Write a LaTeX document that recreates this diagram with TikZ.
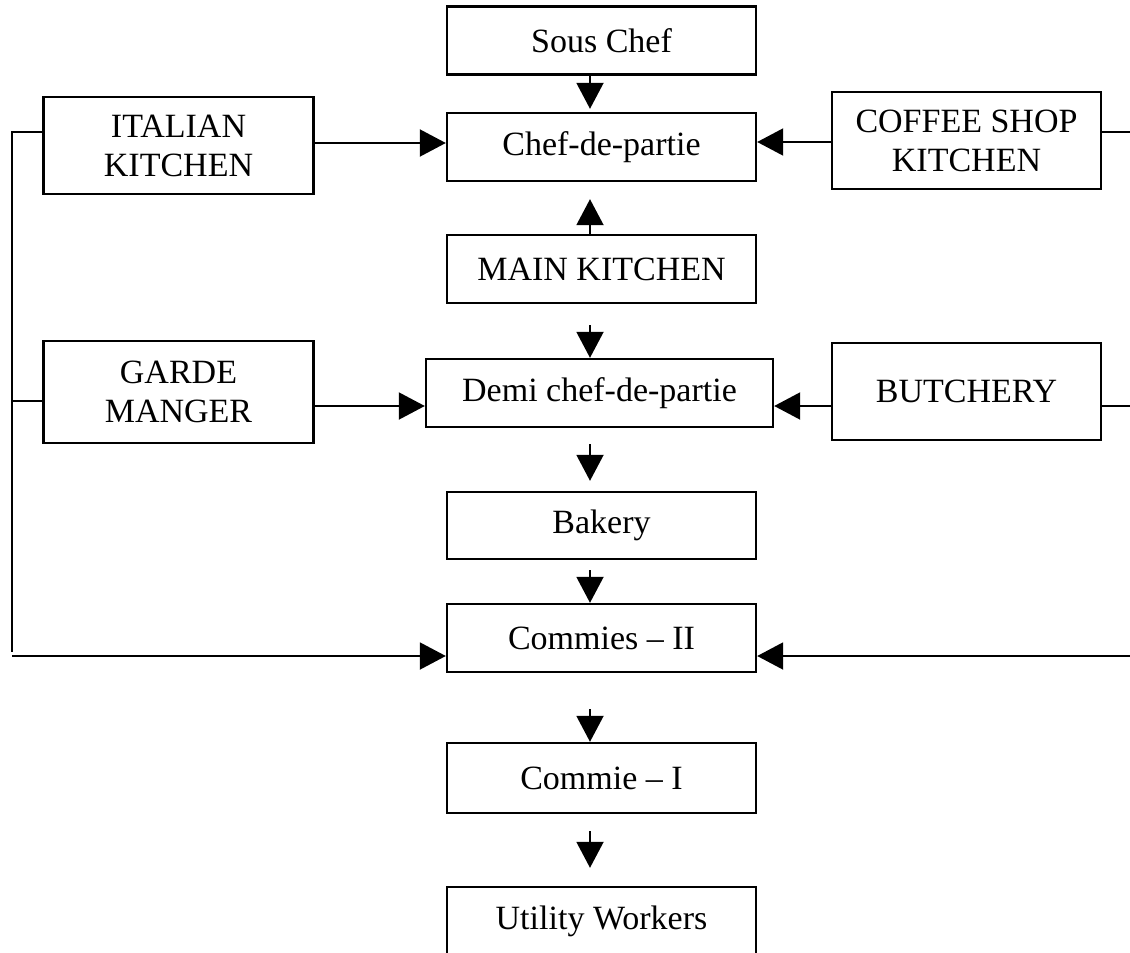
\documentclass[tikz,border=0pt]{standalone}
\usepackage{fontspec}
\setmainfont{Liberation Serif}
\usetikzlibrary{arrows.meta}
\begin{document}
\begin{tikzpicture}[x=1pt,y=-1pt,
  box/.style={draw, line width=2.4pt, inner sep=0pt, align=center,
    font=\fontsize{34}{39}\selectfont, minimum width=309pt, minimum height=68pt},
  sidebox/.style={box, minimum width=270pt, minimum height=97pt},
  openbox/.style={inner sep=0pt, align=center, font=\fontsize{34}{39}\selectfont,
    minimum width=309pt, minimum height=68pt},
  conn/.style={line width=2pt},
  arr/.style={conn, -{Triangle[length=26pt,width=27pt]}}]
\clip (0,0) rectangle (1130,953);
\fill[white] (0,0) rectangle (1130,953);
% guide coordinates
\coordinate (ax) at (590,0);
\coordinate (lbus) at (12,0);
\coordinate (rbus) at (1140,0);
\coordinate (yA) at (0,143);
\coordinate (yAr) at (0,142);
\coordinate (yS1) at (0,132);
\coordinate (yB) at (0,406);
\coordinate (yS2) at (0,401);
\coordinate (yC) at (0,656);
% centre column
\node[box] (sous) at (601.5,40.5) {Sous Chef};
\node[box] (chef) at (601.5,147) {Chef-de-partie};
\node[box] (main) at (601.5,269) {MAIN KITCHEN};
\node[box, minimum width=347pt] (demi) at (599.5,393) {Demi chef-de-partie};
\node[box, minimum height=67pt] (bakery) at (601.5,525.5) {Bakery};
\node[box] (com2) at (601.5,638) {Commies – II};
\node[box, minimum height=70pt] (com1) at (601.5,778) {Commie – I};
\node[openbox] (util) at (601.5,921) {Utility Workers};
\draw[line width=2.4pt] ([yshift=-40pt]util.south west) -- (util.north west) -- (util.north east) -- ([yshift=-40pt]util.south east);
% side boxes
\node[sidebox] (ital) at (178.5,145.5) {ITALIAN\\KITCHEN};
\node[sidebox, minimum height=102pt] (garde) at (178.5,392) {GARDE\\MANGER};
\node[sidebox, minimum width=269pt] (coffee) at (966.5,140.5) {COFFEE SHOP\\KITCHEN};
\node[sidebox, minimum width=269pt] (butch) at (966.5,391.5) {BUTCHERY};
% vertical arrows
\draw[arr, shorten >=3pt] (sous.south -| ax) -- (chef.north -| ax);
\draw[arr, shorten >=17pt] (main.north -| ax) -- (chef.south -| ax);
\draw[arr, shorten <=21pt] (main.south -| ax) -- (demi.north -| ax);
\draw[arr, shorten <=16pt, shorten >=10pt] (demi.south -| ax) -- (bakery.north -| ax);
\draw[arr, shorten <=10pt] (bakery.south -| ax) -- (com2.north -| ax);
\draw[arr, shorten <=36pt] (com2.south -| ax) -- (com1.north -| ax);
\draw[arr, shorten <=17pt, shorten >=19pt] (com1.south -| ax) -- (util.north -| ax);
% horizontal arrows
\draw[arr] (ital.east |- yA) -- (chef.west |- yA);
\draw[arr] (coffee.west |- yAr) -- (chef.east |- yAr);
\draw[arr] (garde.east |- yB) -- (demi.west |- yB);
\draw[arr] (butch.west |- yB) -- (demi.east |- yB);
% left bus
\draw[conn] (ital.west |- yS1) -- (lbus |- yS1) -- ([yshift=4pt]lbus |- yC);
\draw[conn] (garde.west |- yS2) -- (lbus |- yS2);
\draw[arr] (lbus |- yC) -- (com2.west |- yC);
% right bus
\draw[conn] (coffee.east |- yS1) -- (rbus |- yS1);
\draw[conn] (butch.east |- yB) -- (rbus |- yB);
\draw[arr] (rbus |- yC) -- (com2.east |- yC);
\end{tikzpicture}
\end{document}
